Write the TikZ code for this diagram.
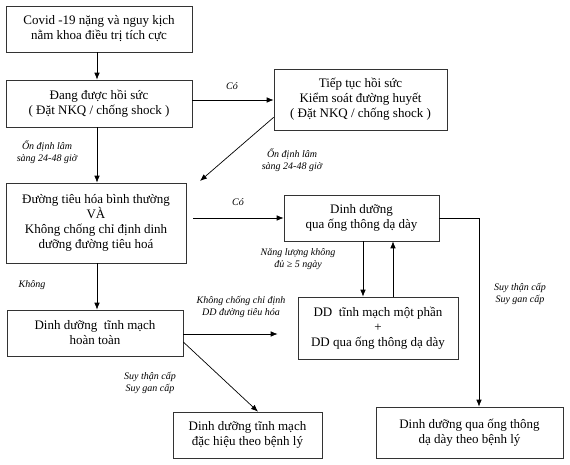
\documentclass[tikz,border=0pt]{standalone}
\usepackage{fontspec}
\setmainfont{Liberation Serif}
\usetikzlibrary{arrows.meta}

\begin{document}
\begin{tikzpicture}
[-{Latex[length=7pt,width=5.5pt]},line width=0.7pt,x=1pt,y=-1pt,%
  box/.style={draw=black!80,line width=0.6pt,rectangle,align=center,inner sep=2pt,font=\fontsize{13}{15}\selectfont},%
  lbl/.style={align=center,inner sep=0pt,font=\fontsize{10}{12}\selectfont\itshape}]
\useasboundingbox (0,0) rectangle (570,465);
% boxes
\node[box,minimum width=186pt,minimum height=46pt] (covid) at (99,29) {Covid -19 nặng và nguy kịch\\nằm khoa điều trị tích cực};
\node[box,minimum width=186pt,minimum height=47pt] (hoisuc) at (99,103.5) {Đang được hồi sức\\( Đặt NKQ / chống shock )};
\node[box,minimum width=173pt,minimum height=61pt] (tieptuc) at (360.5,99.5) {Tiếp tục hồi sức\\Kiểm soát đường huyết\\( Đặt NKQ / chống shock )};
\node[box,minimum width=180pt,minimum height=80pt] (tieuhoa) at (96,223) {Đường tiêu hóa bình thường\\VÀ\\Không chống chỉ định dinh\\dưỡng đường tiêu hoá};
\node[box,minimum width=155pt,minimum height=46pt] (ongthong) at (361.5,218) {Dinh dưỡng\\qua ống thông dạ dày};
\node[box,minimum width=176pt,minimum height=46pt] (tmht) at (95,333) {Dinh dưỡng\ \ tĩnh mạch\\hoàn toàn};
\node[box,minimum width=160pt,minimum height=62pt] (motphan) at (378,328) {DD\ \ tĩnh mạch một phần\\+\\DD qua ống thông dạ dày};
\node[box,minimum width=149pt,minimum height=46pt] (tmbenh) at (247.5,435) {Dinh dưỡng tĩnh mạch\\đặc hiệu theo bệnh lý};
\node[box,minimum width=187pt,minimum height=51pt] (otbenh) at (469.5,432.5) {Dinh dưỡng qua ống thông\\dạ dày theo bệnh lý};
\coordinate (vao) at (200,181);
\coordinate (cot) at (97,0);
% labels
\node[lbl] (co1) at (232,86) {Có};
\node[lbl] (od1) at (47,152) {Ổn định lâm\\sàng 24-48 giờ};
\node[lbl] (od2) at (292,160) {Ổn định lâm\\sàng 24-48 giờ};
\node[lbl] (co2) at (238,202) {Có};
\node[lbl] (nangluong) at (298,259.5) {Năng lượng không\\đủ ≥ 5 ngày};
\node[lbl] (khong) at (32,285) {Không};
\node[lbl] (kcc) at (241,307) {Không chống chỉ định\\DD đường tiêu hóa};
\node[lbl] (suy1) at (150,382.5) {Suy thận cấp\\Suy gan cấp};
\node[lbl] (suy2) at (520,293.5) {Suy thận cấp\\Suy gan cấp};
% connectors
\draw (cot |- covid.south) -- (cot |- hoisuc.north);
\draw (cot |- hoisuc.south) -- (cot |- tieuhoa.north);
\draw ([yshift=3.5pt]hoisuc.east) -- ([yshift=-0.5pt]tieptuc.west);
\draw ([yshift=13pt]tieptuc.south west) -- (vao);
\draw[shorten <=7pt] ([yshift=5pt]tieuhoa.east) -- (ongthong.west);
\draw ([xshift=1.5pt]ongthong.south) -- ([xshift=-15pt]motphan.north);
\draw ([xshift=15pt]motphan.north) -- ([xshift=31.5pt]ongthong.south);
\draw (ongthong.east) -| ([xshift=9.5pt]otbenh.north);
\draw (cot |- tieuhoa.south) -- (cot |- tmht.north);
\draw[shorten >=20pt] ([yshift=-1pt]tmht.east) -- ([yshift=-6pt]motphan.west);
\draw ([yshift=-9pt]tmht.east) -- ([xshift=10.5pt]tmbenh.north);
\end{tikzpicture}
\end{document}
